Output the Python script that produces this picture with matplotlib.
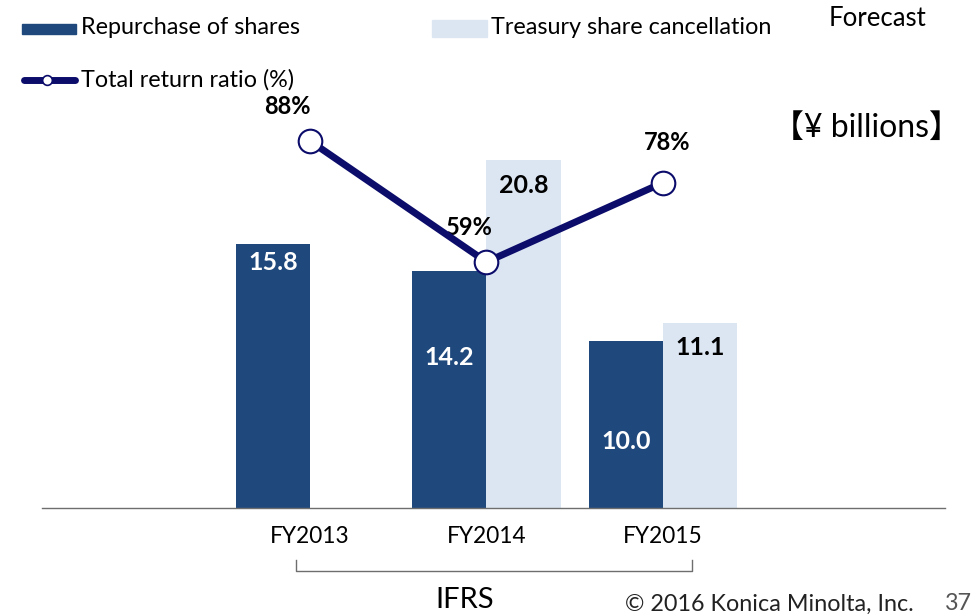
import numpy as np
import matplotlib
matplotlib.use("Agg")
import matplotlib.pyplot as plt
from matplotlib.patches import Rectangle
from matplotlib.lines import Line2D

plt.rcParams['font.family'] = ['Lato', 'Noto Sans CJK JP', 'DejaVu Sans']

years = ["FY2013", "FY2014", "FY2015"]
repurchase = [15.8, 14.2, 10.0]
cancellation = [None, 20.8, 11.1]
return_ratio = [88, 59, 78]

# label nudges (data units below bar top) to mimic the slide
rep_label_drop = [1.1, 5.2, 6.05]
can_label_drop = [None, 1.5, 1.5]
pct_offsets = [(-16, 25), (-12, 25), (3, 29)]

DARK = "#1f497d"
LIGHT = "#dce6f2"
NAVY = "#0c0c6b"

W, H = 975, 614
fig = plt.figure(figsize=(W / 100, H / 100), dpi=100)


def fx(px):
    return px / W


def fy(py):
    return 1 - py / H


ax = fig.add_axes([fx(42), fy(508), fx(945) - fx(42), fy(0) - fy(508)])
ax.set_xlim(-1.52, 3.6)
ax.set_ylim(0, 508 / 16.71)

x = np.arange(len(years))
bw = 0.42
ax.bar(x - bw / 2, repurchase, width=bw, color=DARK, zorder=2)
can_vals = [v if v is not None else 0 for v in cancellation]
ax.bar(x + bw / 2, can_vals, width=bw, color=LIGHT, zorder=1)

for i, v in enumerate(repurchase):
    ax.text(x[i] - bw / 2, v - rep_label_drop[i], f"{v:.1f}", color="white",
            fontsize=18, fontweight="bold", ha="center", va="center", zorder=3)
for i, v in enumerate(cancellation):
    if v is None:
        continue
    ax.text(x[i] + bw / 2, v - can_label_drop[i], f"{v:.1f}", color="black",
            fontsize=18, fontweight="bold", ha="center", va="center", zorder=3)

for s in ["top", "right", "left"]:
    ax.spines[s].set_visible(False)
ax.spines["bottom"].set_color("#6e6e6e")
ax.spines["bottom"].set_linewidth(1.0)
ax.set_yticks([])
ax.set_xticks(x)
ax.set_xticklabels(years, fontsize=16.3)
ax.tick_params(axis="x", length=0, pad=13)

ax2 = ax.twinx()
ax2.set_ylim(0, 508 / 4.17)
ax2.axis("off")
ax2.plot(x, return_ratio, color=NAVY, lw=5, marker="o", markersize=17,
         markerfacecolor="white", markeredgecolor=NAVY, markeredgewidth=1.5,
         zorder=5, solid_capstyle="round")
for i, v in enumerate(return_ratio):
    ax2.annotate(f"{v}%", (x[i], v), xytext=pct_offsets[i], textcoords="offset points",
                 ha="center", va="center", fontsize=17, fontweight="bold")

# legend drawn by hand to match slide placement
fig.patches.append(Rectangle((fx(22), fy(34)), fx(76) - fx(22), fy(24) - fy(34),
                             transform=fig.transFigure, color=DARK))
fig.text(fx(81), fy(28), "Repurchase of shares", fontsize=16.8, va="center")
fig.patches.append(Rectangle((fx(432), fy(37)), fx(487) - fx(432), fy(20) - fy(37),
                             transform=fig.transFigure, color=LIGHT))
fig.text(fx(491), fy(28), "Treasury share cancellation", fontsize=16.8, va="center")
fig.text(fx(829), fy(18), "Forecast", fontsize=18.5, va="center")
fig.lines.append(Line2D([fx(24), fx(75)], [fy(80), fy(80)], transform=fig.transFigure,
                        color=NAVY, lw=5, solid_capstyle="round"))
fig.lines.append(Line2D([fx(47)], [fy(80)], transform=fig.transFigure, marker="o",
                        markersize=7, markerfacecolor="white", markeredgecolor=NAVY,
                        markeredgewidth=1.2))
fig.text(fx(81), fy(80), "Total return ratio (%)", fontsize=16.8, va="center")

fig.text(fx(772), fy(128), "【¥ billions】", fontsize=23, va="center")

# IFRS bracket
fig.lines.append(Line2D([fx(296), fx(296), fx(692), fx(692)],
                        [fy(560), fy(571), fy(571), fy(560)],
                        transform=fig.transFigure, color="#6e6e6e", lw=1))
fig.text(fx(465), fy(600), "IFRS", fontsize=21, ha="center", va="center")
fig.text(fx(625), fy(604), "© 2016 Konica Minolta, Inc.", fontsize=16.8,
         va="center", color="#222222")
fig.text(fx(945), fy(604), "37", fontsize=16.8, va="center", color="#555555")

fig.savefig("out.png", dpi=100)
